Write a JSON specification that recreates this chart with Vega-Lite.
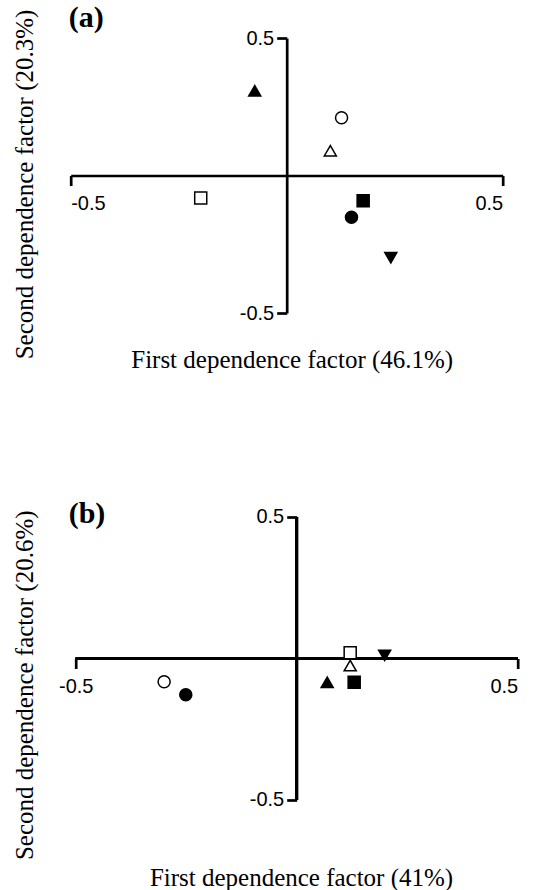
{
  "$schema": "https://vega.github.io/schema/vega-lite/v6.json",
  "background": "white",
  "padding": {"left": 12.7, "top": 3, "right": 0, "bottom": 0},
  "spacing": 127,
  "align": "none",
  "bounds": "full",
  "resolve": {"scale": {"x": "independent", "y": "independent"}},
  "config": {
    "view": {"stroke": null},
    "axis": {
      "domainColor": "black",
      "domainWidth": 2.7,
      "tickColor": "black",
      "tickWidth": 2.7,
      "tickSize": 10,
      "grid": false,
      "labelFont": "Liberation Sans",
      "labelFontSize": 20,
      "labelColor": "black",
      "titleFont": "Liberation Serif",
      "titleFontSize": 25,
      "titleFontWeight": "normal",
      "titleColor": "black",
      "titleBaseline": "alphabetic",
      "titleAlign": "center",
      "labelExpr": "datum.value > 0 ? '0.5' : '-0.5'"
    },
    "axisX": {"labelPadding": 8},
    "axisY": {"labelPadding": 3}
  },
  "datasets": {
    "a": [
      {"series": "S1", "f1": 0.150, "f2": -0.152},
      {"series": "S2", "f1": 0.127, "f2": 0.210},
      {"series": "S3", "f1": 0.177, "f2": -0.092},
      {"series": "S4", "f1": -0.199, "f2": -0.082},
      {"series": "S5", "f1": -0.074, "f2": 0.308},
      {"series": "S6", "f1": 0.101, "f2": 0.090},
      {"series": "S7", "f1": 0.241, "f2": -0.299}
    ],
    "b": [
      {"series": "S1", "f1": -0.251, "f2": -0.128},
      {"series": "S2", "f1": -0.300, "f2": -0.082},
      {"series": "S3", "f1": 0.130, "f2": -0.084},
      {"series": "S4", "f1": 0.121, "f2": 0.020},
      {"series": "S5", "f1": 0.069, "f2": -0.084},
      {"series": "S6", "f1": 0.121, "f2": -0.025},
      {"series": "S7", "f1": 0.199, "f2": 0.011}
    ]
  },
  "vconcat": [
    {
      "width": 432,
      "height": 275,
      "title": {"text": "(a)", "orient": "none", "anchor": "start", "frame": "group", "font": "Liberation Serif", "fontSize": 30, "fontWeight": "bold", "color": "black", "baseline": "alphabetic", "offset": 0, "dx": -2, "dy": -11},
      "data": {"name": "a"},
      "mark": {"type": "point", "filled": true, "size": 145, "stroke": "black", "strokeWidth": 1.5, "opacity": 1},
      "encoding": {
        "x": {
          "field": "f1", "type": "quantitative",
          "scale": {"domain": [-0.5, 0.5], "nice": false, "zero": false},
          "axis": {"orient": "bottom", "offset": -137.5, "values": [-0.5, 0.5], "title": "First dependence factor (46.1%)", "titleX": 221, "titleY": 191.5}
        },
        "y": {
          "field": "f2", "type": "quantitative",
          "scale": {"domain": [-0.5, 0.5], "nice": false, "zero": false},
          "axis": {"orient": "left", "offset": -216, "values": [-0.5, 0.5], "title": "Second dependence factor (20.3%)", "titleX": -254, "titleY": 146}
        },
        "shape": {"field": "series", "type": "nominal", "legend": null,
          "scale": {"domain": ["S1","S2","S3","S4","S5","S6","S7"], "range": ["circle","circle","square","square","triangle-up","triangle-up","triangle-down"]}},
        "fill": {"field": "series", "type": "nominal", "legend": null,
          "scale": {"domain": ["S1","S2","S3","S4","S5","S6","S7"], "range": ["black","white","black","white","black","white","black"]}}
      }
    },
    {
      "width": 447,
      "height": 283,
      "title": {"text": "(b)", "orient": "none", "anchor": "start", "frame": "group", "font": "Liberation Serif", "fontSize": 30, "fontWeight": "bold", "color": "black", "baseline": "alphabetic", "offset": 0, "dx": -2, "dy": 6},
      "data": {"name": "b"},
      "layer": [
        {
          "mark": {"type": "rule", "color": "black", "strokeWidth": 2.7},
          "encoding": {
            "x": {"datum": -0.5, "type": "quantitative"},
            "x2": {"datum": 0.5},
            "y": {"datum": 0, "type": "quantitative"}
          }
        },
        {
          "mark": {"type": "rule", "color": "black", "strokeWidth": 2.7},
          "encoding": {
            "x": {"datum": 0, "type": "quantitative"},
            "y": {"datum": -0.5, "type": "quantitative"},
            "y2": {"datum": 0.5}
          }
        },
        {
          "mark": {"type": "point", "filled": true, "size": 145, "stroke": "black", "strokeWidth": 1.5, "opacity": 1},
          "encoding": {
            "x": {"field": "f1", "type": "quantitative"},
            "y": {"field": "f2", "type": "quantitative"},
            "shape": {"field": "series", "type": "nominal", "legend": null,
              "scale": {"domain": ["S1","S2","S3","S4","S5","S6","S7"], "range": ["circle","circle","square","square","triangle-up","triangle-up","triangle-down"]}},
            "fill": {"field": "series", "type": "nominal", "legend": null,
              "scale": {"domain": ["S1","S2","S3","S4","S5","S6","S7"], "range": ["black","white","black","white","black","white","black"]}}
          }
        }
      ],
      "encoding": {
        "x": {
          "type": "quantitative",
          "scale": {"domain": [-0.5114, 0.5], "nice": false, "zero": false},
          "axis": {"orient": "bottom", "offset": -141.5, "domain": false, "values": [-0.5, 0.5], "title": "First dependence factor (41%)", "titleX": 230.3, "titleY": 226.7}
        },
        "y": {
          "type": "quantitative",
          "scale": {"domain": [-0.5, 0.5], "nice": false, "zero": false},
          "axis": {"orient": "left", "offset": -226, "domain": false, "values": [-0.5, 0.5], "title": "Second dependence factor (20.6%)", "titleX": -264, "titleY": 167.8}
        }
      }
    }
  ]
}
